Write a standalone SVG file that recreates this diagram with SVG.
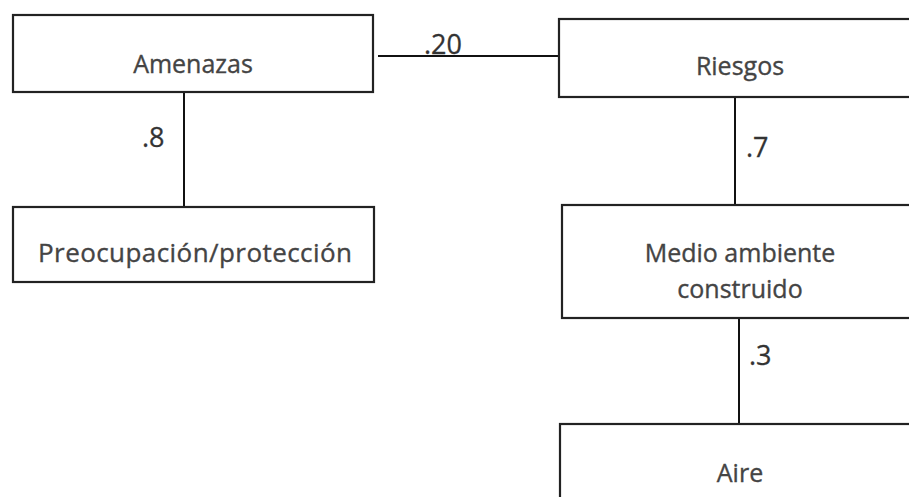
<svg xmlns="http://www.w3.org/2000/svg" width="909" height="497" viewBox="0 0 909 497">
<style>
.box{fill:#fff;stroke:#222;stroke-width:2.2}
.t{font-family:"Open Sans","Liberation Sans",sans-serif;font-size:25px;fill:#444;stroke:#444;stroke-width:0.35;text-anchor:middle}
.l{font-family:"Open Sans","Liberation Sans",sans-serif;font-size:27px;fill:#333;stroke:#333;stroke-width:0.3;text-anchor:start}
.c{stroke:#111;stroke-width:2;fill:none}
</style>
<rect width="909" height="497" fill="#fff"/>
<g id="connectors">
<line class="c" x1="378" y1="56" x2="559" y2="56"/>
<line class="c" x1="184" y1="92" x2="184" y2="207"/>
<line class="c" x1="735" y1="97" x2="735" y2="205"/>
<line class="c" x1="739" y1="313" x2="739" y2="424"/>
<text class="l" x="424" y="54">.20</text>
<text class="l" x="142" y="147">.8</text>
<text class="l" x="746" y="157">.7</text>
<text class="l" x="749" y="365">.3</text>
</g>
<g id="amenazas">
<rect class="box" x="13" y="15" width="360" height="77"/>
<text class="t" x="193" y="73">Amenazas</text>
</g>
<g id="riesgos">
<rect class="box" x="559" y="19" width="362" height="78"/>
<text class="t" x="740" y="75">Riesgos</text>
</g>
<g id="preocupacion">
<rect class="box" x="13" y="207" width="361" height="75"/>
<text class="t" x="195" y="262" style="font-size:26px" textLength="314">Preocupación/protección</text>
</g>
<g id="medio">
<rect class="box" x="562" y="205" width="360" height="113"/>
<text class="t" x="740" y="262">Medio ambiente</text>
<text class="t" x="740" y="298">construido</text>
</g>
<g id="aire">
<rect class="box" x="560" y="424" width="362" height="90"/>
<text class="t" x="740" y="482">Aire</text>
</g>
</svg>
